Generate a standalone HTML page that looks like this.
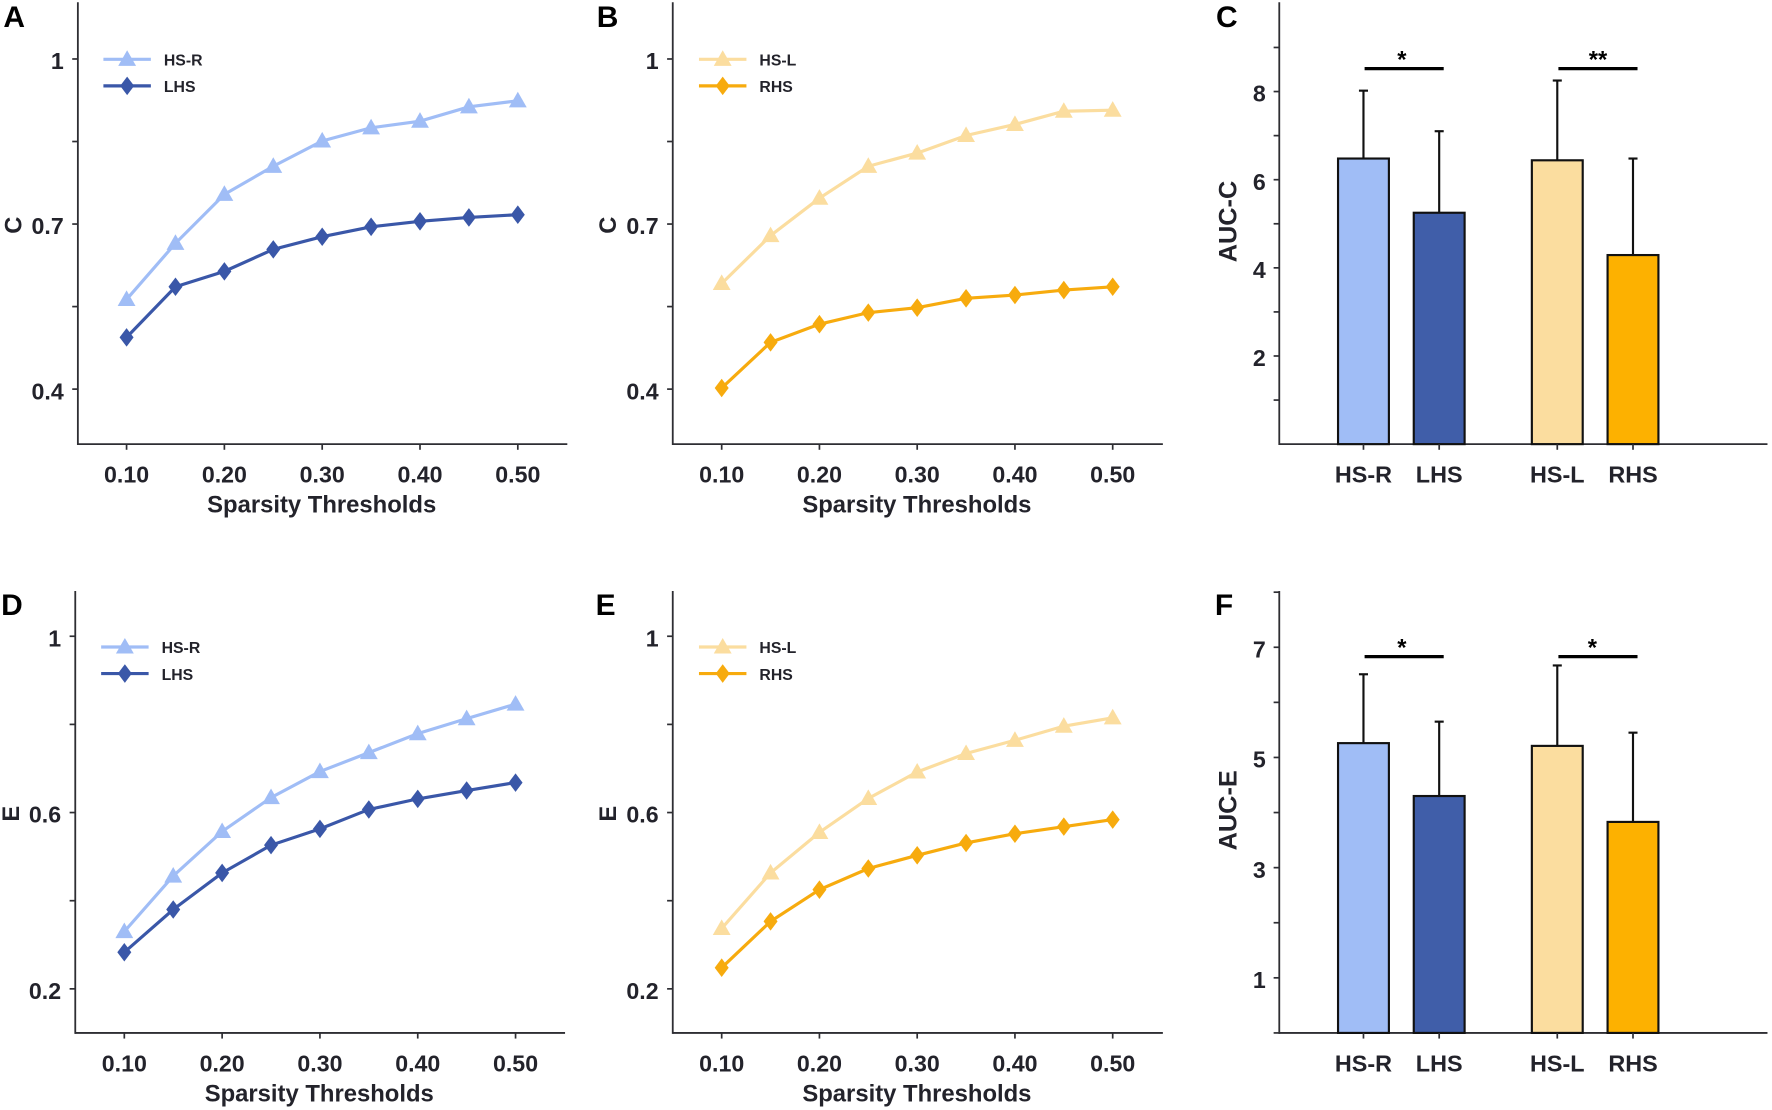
<!DOCTYPE html>
<html lang="en">
<head>
<meta charset="utf-8">
<title>Small-world metrics by sparsity threshold</title>
<style>
html,body{margin:0;padding:0;background:#fff;}
body{width:1772px;height:1110px;overflow:hidden;}
svg{display:block;}
text{font-family:"Liberation Sans",Arial,sans-serif;font-weight:700;fill:#23232b;}
</style>
</head>
<body>
<svg id="figure" xmlns="http://www.w3.org/2000/svg" width="1772" height="1110" viewBox="0 0 1568 982.2"></svg>
<script>
// ---- data ----
const sparsity = [0.10, 0.15, 0.20, 0.25, 0.30, 0.35, 0.40, 0.45, 0.50];
const xTickValues = [0.10, 0.20, 0.30, 0.40, 0.50];
const xTickLabels = ['0.10', '0.20', '0.30', '0.40', '0.50'];
const xTitle = 'Sparsity Thresholds';

const panelAHsR = [0.563, 0.665, 0.754, 0.805, 0.851, 0.875, 0.887, 0.913, 0.924];
const panelALhs = [0.494, 0.586, 0.614, 0.654, 0.677, 0.695, 0.705, 0.712, 0.717];
const panelBHsL = [0.592, 0.679, 0.747, 0.805, 0.829, 0.861, 0.881, 0.905, 0.907];
const panelBRhs = [0.402, 0.485, 0.518, 0.539, 0.548, 0.565, 0.571, 0.580, 0.586];
const panelDHsR = [0.330, 0.456, 0.557, 0.634, 0.693, 0.736, 0.779, 0.813, 0.846];
const panelDLhs = [0.283, 0.380, 0.463, 0.526, 0.563, 0.607, 0.631, 0.650, 0.668];
const panelEHsL = [0.337, 0.463, 0.555, 0.632, 0.692, 0.734, 0.764, 0.796, 0.815];
const panelERhs = [0.248, 0.353, 0.425, 0.473, 0.503, 0.531, 0.552, 0.568, 0.584];

const cTickValues = [1.0, 0.7, 0.4];
const cTickLabels = ['1', '0.7', '0.4'];
const cMinorTicks = [0.85, 0.55];
const eTickValues = [1.0, 0.6, 0.2];
const eTickLabels = ['1', '0.6', '0.2'];
const eMinorTicks = [0.8, 0.4];

const barCategories = ['HS-R', 'LHS', 'HS-L', 'RHS'];
const aucCMeans = [6.48, 5.25, 6.44, 4.29];
const aucCErrors = [1.54, 1.85, 1.81, 2.19];
const aucCTicks = [8, 6, 4, 2];
const aucCMinor = [9, 7, 5, 3, 1];
const aucCSigHeight = [8.52, 8.52];
const aucCSigLabels = ['*', '**'];
const aucEMeans = [5.26, 4.30, 5.21, 3.83];
const aucEErrors = [1.25, 1.35, 1.46, 1.62];
const aucETicks = [7, 5, 3, 1];
const aucEMinor = [8, 6, 4, 2, 0];
const aucESigHeight = [6.83, 6.83];
const aucESigLabels = ['*', '*'];

// ---- styles ----
const LIGHT_BLUE = '#a0bdf6';
const DARK_BLUE = '#3a57a8';
const BAR_DARK_BLUE = '#405ea9';
const LIGHT_YELLOW = '#fbdd9f';
const ORANGE = '#f7ab0e';
const BAR_ORANGE = '#fdb100';
const AXIS = '#2e2e33';
const NS = 'http://www.w3.org/2000/svg';
const svg = document.getElementById('figure');

function make(tag, attrs, parent, text) {
  const node = document.createElementNS(NS, tag);
  for (const k in attrs) node.setAttribute(k, attrs[k]);
  if (text !== undefined) node.textContent = text;
  parent.appendChild(node);
  return node;
}

function marker(kind, cx, cy, color, parent, name) {
  const pts = kind === 'triangle'
    ? [[cx, cy - 8], [cx + 7.9, cy + 5.8], [cx - 7.9, cy + 5.8]]
    : [[cx, cy - 8.2], [cx + 6.2, cy], [cx, cy + 8.2], [cx - 6.2, cy]];
  const m = make('polygon', {points: pts.map(p => p.join(',')).join(' '), fill: color}, parent);
  
  
  return m;
}

function panelLetter(letter, x, y, parent) {
  const t = make('text', {x: x, y: y, 'font-size': 26.5, style: 'fill:#000'}, parent, letter);
  
  
}

function axisLine(x1, y1, x2, y2, w, parent, name) {
  const l = make('line', {x1: x1, y1: y1, x2: x2, y2: y2, stroke: AXIS, 'stroke-width': w}, parent);
  
  
}

function drawLinePanel(p) {
  const g = make('g', {}, svg);
  
  
  panelLetter(p.letter, p.letterX, p.letterY, g);

  const sx = v => p.x10 + (v - 0.1) * (p.x50 - p.x10) / 0.4;
  const sy = v => p.bottom - (v - p.yMin) * (p.bottom - p.top) / (p.yMax - p.yMin);

  axisLine(p.left, p.axisTop, p.left, p.bottom + 0.8, 1.6, g, 'y-axis');
  axisLine(p.left, p.bottom, p.right, p.bottom, 1.6, g, 'x-axis');

  xTickValues.forEach((v, i) => {
    axisLine(sx(v), p.bottom, sx(v), p.bottom + 5, 1.5, g, 'x-tick');
    const t = make('text', {x: sx(v), y: p.bottom + 34, 'text-anchor': 'middle', 'font-size': 20.5}, g, xTickLabels[i]);
    
    
  });
  p.ticks.forEach((v, i) => {
    axisLine(p.left - 5, sy(v), p.left, sy(v), 1.5, g, 'y-tick');
    const t = make('text', {x: p.left - 12.5, y: sy(v) + 9, 'text-anchor': 'end', 'font-size': 20.5}, g, p.tickLabels[i]);
    
    
  });
  p.minor.forEach(v => {
    axisLine(p.left - 5, sy(v), p.left, sy(v), 1.5, g, 'y-minor-tick');
  });

  const xt = make('text', {x: (p.left + p.right) / 2 - 0.8, y: p.bottom + 60.5, 'text-anchor': 'middle', 'font-size': 21.1}, g, xTitle);
  
  

  const yMid = sy(p.ticks[1]) + 1;
  const yt = make('text', {x: p.left - 50, y: yMid, 'text-anchor': 'middle', 'font-size': 21,
    transform: 'rotate(-90 ' + (p.left - 50) + ' ' + yMid + ')'}, g, p.yTitle);
  
  

  p.series.forEach(s => {
    const line = make('polyline', {
      points: s.values.map((v, i) => sx(sparsity[i]) + ',' + sy(v)).join(' '),
      fill: 'none', stroke: s.color, 'stroke-width': 2.8
    }, g);
    
    
    s.values.forEach((v, i) => {
      marker(s.kind, sx(sparsity[i]), sy(v), s.color, g, 'point-' + s.name.toLowerCase());
    });
  });

  p.series.forEach((s, i) => {
    const ly = p.legendY + i * 23.5;
    const lg = make('g', {}, g);
    
    
    const sw = make('line', {x1: p.legendX, y1: ly, x2: p.legendX + 42, y2: ly, stroke: s.color, 'stroke-width': 2.8}, lg);
    
    
    marker(s.kind, p.legendX + 21, ly, s.color, lg, 'legend-marker');
    const lt = make('text', {x: p.legendX + 53.5, y: ly + 5.5, 'font-size': 14}, lg, s.name);
    
    
  });
}

function drawBarPanel(p) {
  const g = make('g', {}, svg);
  
  
  panelLetter(p.letter, p.letterX, p.letterY, g);

  const sy = v => p.bottom - (v - p.yMin) * (p.bottom - p.top) / (p.yMax - p.yMin);
  const barX = i => 1206.5 + (i % 2) * 67 + Math.floor(i / 2) * 171.5;
  const fills = [LIGHT_BLUE, BAR_DARK_BLUE, LIGHT_YELLOW, BAR_ORANGE];

  axisLine(p.left, p.axisTop, p.left, p.bottom + 0.8, 1.6, g, 'y-axis');
  axisLine(p.left, p.bottom, 1564, p.bottom, 1.6, g, 'x-axis');

  p.ticks.forEach(v => {
    axisLine(p.left - 5, sy(v), p.left, sy(v), 1.5, g, 'y-tick');
    const t = make('text', {x: p.left - 12, y: sy(v) + 9, 'text-anchor': 'end', 'font-size': 20.5}, g, String(v));
    
    
  });
  p.minor.forEach(v => {
    axisLine(p.left - 5, sy(v), p.left, sy(v), 1.5, g, 'y-minor-tick');
  });

  const yt = make('text', {x: 1094, y: p.titleY, 'text-anchor': 'middle', 'font-size': 22.4,
    transform: 'rotate(-90 1094 ' + p.titleY + ')'}, g, p.yTitle);
  
  

  barCategories.forEach((c, i) => {
    const cx = barX(i);
    const top = sy(p.means[i]);
    const errTop = sy(p.means[i] + p.errors[i]);
    const err = make('line', {x1: cx, y1: top, x2: cx, y2: errTop, stroke: '#111', 'stroke-width': 1.9}, g);
    
    
    const cap = make('line', {x1: cx - 4, y1: errTop, x2: cx + 4, y2: errTop, stroke: '#111', 'stroke-width': 1.9}, g);
    
    
    const bar = make('rect', {x: cx - 22.5, y: top, width: 45, height: sy(0) - top, fill: fills[i], stroke: '#111', 'stroke-width': 1.9}, g);
    
    
    axisLine(cx, p.bottom, cx, p.bottom + 5, 1.5, g, 'x-tick');
    const t = make('text', {x: cx, y: p.bottom + 34, 'text-anchor': 'middle', 'font-size': 20.7}, g, c);
    
    
  });

  [0, 1].forEach(k => {
    const y = sy(p.sigHeights[k]);
    const x1 = barX(k * 2) + 1;
    const s = make('line', {x1: x1, y1: y, x2: x1 + 70, y2: y, stroke: '#000', 'stroke-width': 2.9}, g);
    
    
    const st = make('text', {x: x1 + p.starOffsets[k], y: y - 1, 'text-anchor': 'middle', 'font-size': 21, style: 'fill:#000'}, g, p.sigLabels[k]);
    
    
  });
}

drawLinePanel({
  letter: 'A', letterX: 3, letterY: 24, yTitle: 'C',
  left: 68.9, right: 502, top: 3.5, bottom: 393, axisTop: 2, x10: 112, x50: 458.2,
  yMin: 0.3, yMax: 1.1, ticks: cTickValues, tickLabels: cTickLabels, minor: cMinorTicks,
  legendX: 91.5, legendY: 52.5,
  series: [
    {name: 'HS-R', kind: 'triangle', color: LIGHT_BLUE, values: panelAHsR},
    {name: 'LHS', kind: 'diamond', color: DARK_BLUE, values: panelALhs}
  ]
});
drawLinePanel({
  letter: 'B', letterX: 528, letterY: 24, yTitle: 'C',
  left: 595.3, right: 1029, top: 3.5, bottom: 393, axisTop: 2, x10: 638.6, x50: 984.6,
  yMin: 0.3, yMax: 1.1, ticks: cTickValues, tickLabels: cTickLabels, minor: cMinorTicks,
  legendX: 618.5, legendY: 52.5,
  series: [
    {name: 'HS-L', kind: 'triangle', color: LIGHT_YELLOW, values: panelBHsL},
    {name: 'RHS', kind: 'diamond', color: ORANGE, values: panelBRhs}
  ]
});
drawLinePanel({
  letter: 'D', letterX: 1, letterY: 544, yTitle: 'E',
  left: 66.6, right: 500, top: 524, bottom: 914, axisTop: 523, x10: 110, x50: 456.2,
  yMin: 0.1, yMax: 1.1, ticks: eTickValues, tickLabels: eTickLabels, minor: eMinorTicks,
  legendX: 89.5, legendY: 572.5,
  series: [
    {name: 'HS-R', kind: 'triangle', color: LIGHT_BLUE, values: panelDHsR},
    {name: 'LHS', kind: 'diamond', color: DARK_BLUE, values: panelDLhs}
  ]
});
drawLinePanel({
  letter: 'E', letterX: 527, letterY: 544, yTitle: 'E',
  left: 595.3, right: 1029, top: 524, bottom: 914, axisTop: 523, x10: 638.6, x50: 984.6,
  yMin: 0.1, yMax: 1.1, ticks: eTickValues, tickLabels: eTickLabels, minor: eMinorTicks,
  legendX: 618.5, legendY: 572.5,
  series: [
    {name: 'HS-L', kind: 'triangle', color: LIGHT_YELLOW, values: panelEHsL},
    {name: 'RHS', kind: 'diamond', color: ORANGE, values: panelERhs}
  ]
});
drawBarPanel({
  letter: 'C', letterX: 1076, letterY: 24, yTitle: 'AUC-C', titleY: 196,
  left: 1132, top: 3, bottom: 393, axisTop: 2, yMin: 0, yMax: 10,
  ticks: aucCTicks, minor: aucCMinor, means: aucCMeans, errors: aucCErrors,
  sigHeights: aucCSigHeight, sigLabels: aucCSigLabels, starOffsets: [33, 35]
});
drawBarPanel({
  letter: 'F', letterX: 1075, letterY: 544, yTitle: 'AUC-E', titleY: 717,
  left: 1132, top: 524, bottom: 914, axisTop: 523, yMin: 0, yMax: 8,
  ticks: aucETicks, minor: aucEMinor, means: aucEMeans, errors: aucEErrors,
  sigHeights: aucESigHeight, sigLabels: aucESigLabels, starOffsets: [33, 30]
});
</script>
</body>
</html>
